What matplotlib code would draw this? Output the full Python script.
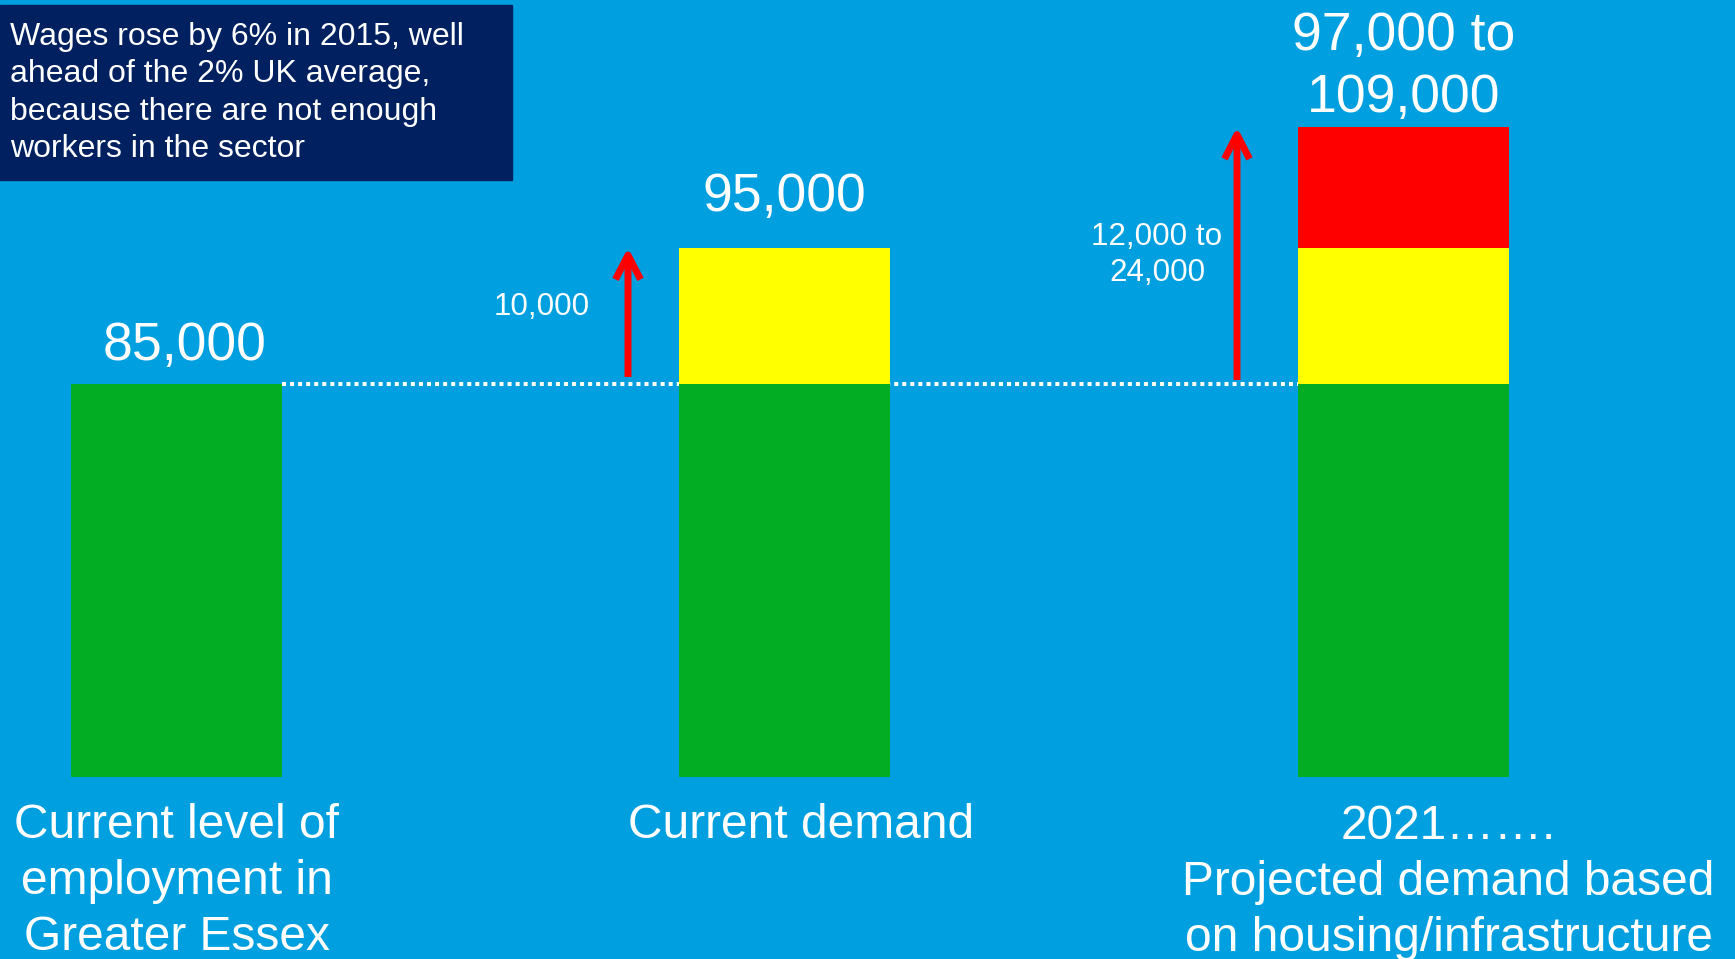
"""Greater Essex workforce: current employment vs current and projected demand."""

import numpy as np
import matplotlib.pyplot as plt
import matplotlib.patches as mpatches

categories = [
    "Current level of\nemployment in\nGreater Essex",
    "Current demand",
    "2021…….\nProjected demand based\non housing/infrastructure",
]
employed = np.array([85000, 85000, 85000])
shortfall = np.array([0, 10000, 10000])
growth = np.array([0, 0, 14000])
value_labels = ["85,000", "95,000", "97,000 to\n109,000"]
gap_labels = ["10,000", "12,000 to\n24,000"]
note = ("Wages rose by 6% in 2015, well\nahead of the 2% UK average,\n"
        "because there are not enough\nworkers in the sector")

BG = "#009FDF"
GREEN = "#03AD23"
YELLOW = "#FFFF00"
RED = "#FF0000"
NAVY = "#002060"
FONT = ["Liberation Sans", "DejaVu Sans"]

W, H = 1735, 959
plt.rcParams["font.family"] = FONT

fig = plt.figure(figsize=(W / 100, H / 100), dpi=100, facecolor=BG)
ax = fig.add_axes([0, 182 / H, 1, 777 / H])
ax.set_facecolor(BG)
ax.axis("off")

# the original slide is schematic, not to scale: piecewise-linear y scale
brk_v = [0, 85000, 95000, 109000, 300000]
brk_p = [0, 393, 529.5, 650, 650 + 191000 * 120.5 / 14000]
fwd = lambda v: np.interp(v, brk_v, brk_p)
inv = lambda p: np.interp(p, brk_p, brk_v)
ax.set_yscale("function", functions=(fwd, inv))
ax.set_ylim(0, inv(777))

step = 613.5
x0 = 176.5
px = lambda p: (p - x0) / step   # figure pixel -> x data
x = np.array([px(176.5), px(784), px(1403.5)])   # slide spacing is uneven
ax.set_xlim(px(0), px(W))
width = 211 / step

ax.bar(x, employed, width, color=GREEN, lw=0, zorder=2)
ax.bar(x, shortfall, width, bottom=employed, color=YELLOW, lw=0, zorder=2)
ax.bar(x, growth, width, bottom=employed + shortfall, color=RED, lw=0, zorder=2)

ax.hlines(employed[0], x[0] + width / 2, x[2] - width / 2, colors="white",
          linestyles=(0, (1, 1)), lw=2.9, zorder=1)

tops = employed + shortfall + growth
for xi, top, lab, dx, dy in zip(x, tops, value_labels, [8, 0, 0], [38, 51, 60]):
    ax.annotate(lab, xy=(xi, top), xytext=(dx, dy), textcoords="offset pixels",
                ha="center", va="center", fontsize=38.5, color="white",
                linespacing=1.3)

# gap arrows from the dotted line up to the demand level
arrow_x = [px(628), px(1237)]
for ax_x, top, gap_off in zip(arrow_x, tops[1:], [7, 4]):
    ax.annotate("", xy=(ax_x, top), xytext=(ax_x, inv(fwd(employed[0]) + gap_off)),
                arrowprops=dict(arrowstyle="->, head_length=0.7, head_width=0.36",
                                color=RED, lw=5, shrinkA=0, shrinkB=0,
                                mutation_scale=25, capstyle="butt",
                                joinstyle="round"))

gap_pos = [(px(542), inv(777 - 307)), (px(1157), inv(777 - 255))]
for (gx, gy), lab in zip(gap_pos, gap_labels):
    ax.text(gx, gy, lab, ha="center", va="center", fontsize=22.6, color="white",
            linespacing=1.27)

for xi, cat, dx, dy in zip(x, categories, [0, 17, 45], [-26, -26, -27]):
    ax.annotate(cat, xy=(xi, 0), xycoords=("data", "axes fraction"),
                xytext=(dx, dy), textcoords="offset pixels", ha="center",
                va="top", fontsize=34.5, color="white", linespacing=1.32,
                annotation_clip=False)

fig.patches.append(mpatches.Rectangle((0, 1 - 180 / H), 512 / W, 175 / H,
                                      transform=fig.transFigure, color=NAVY,
                                      zorder=0))
fig.text(10 / W, 1 - 22 / H, note, ha="left", va="top", fontsize=23,
         color="white", linespacing=1.32)

fig.savefig("out.png", dpi=100, facecolor=BG)
